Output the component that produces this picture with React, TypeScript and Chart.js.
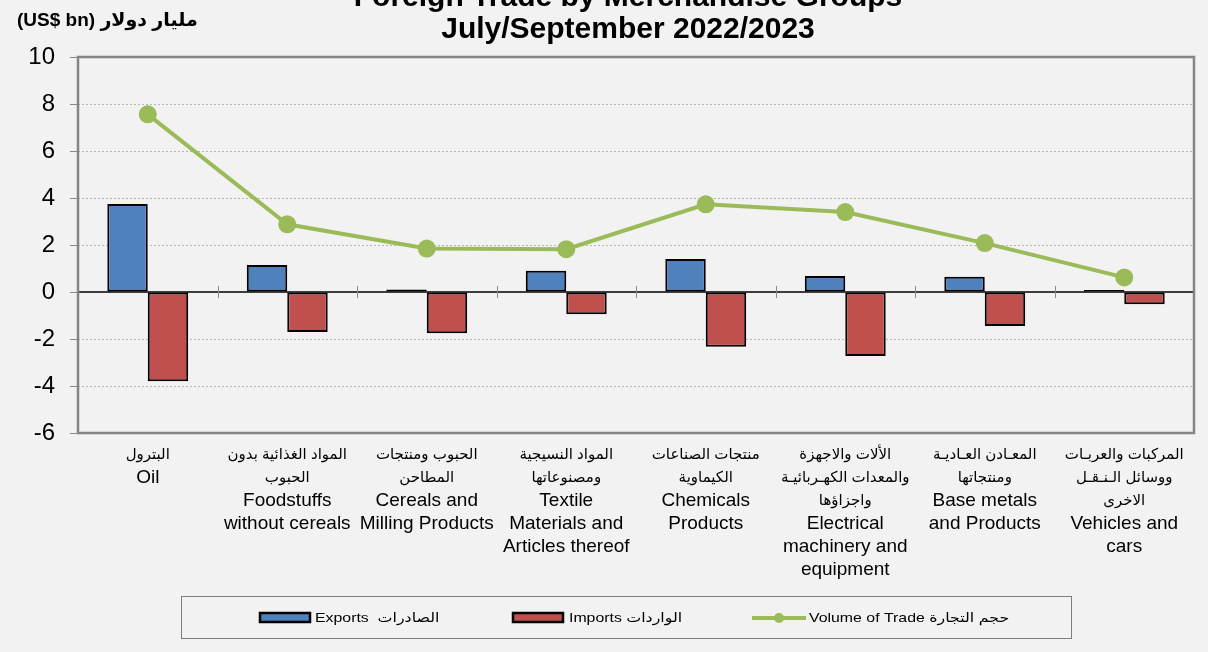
import React, { useEffect, useRef } from "react";
import { Chart, registerables } from "chart.js";

Chart.register(...registerables);

const categoriesAr: string[][] = [
  ["البترول"],
  ["المواد الغذائية بدون", "الحبوب"],
  ["الحبوب ومنتجات", "المطاحن"],
  ["المواد النسيجية", "ومصنوعاتها"],
  ["منتجات الصناعات", "الكيماوية"],
  ["الألات والاجهزة", "والمعدات الكهـربائيـة", "واجزاؤها"],
  ["المعـادن العـاديـة", "ومنتجاتها"],
  ["المركبات والعربـات", "ووسائل الـنـقـل", "الاخرى"],
];

const categoriesEn: string[][] = [
  ["Oil"],
  ["Foodstuffs", "without cereals"],
  ["Cereals and", "Milling Products"],
  ["Textile", "Materials and", "Articles thereof"],
  ["Chemicals", "Products"],
  ["Electrical", "machinery and", "equipment"],
  ["Base metals", "and Products"],
  ["Vehicles and", "cars"],
];

const exportsData = [3.75, 1.15, 0.11, 0.9, 1.4, 0.68, 0.65, 0.08];
const importsData = [-3.8, -1.7, -1.75, -0.95, -2.33, -2.72, -1.45, -0.52];
const volumeData = [7.56, 2.88, 1.85, 1.82, 3.73, 3.4, 2.08, 0.62];

const titleLines = ["Foreign Trade by Merchandise Groups", "July/September 2022/2023"];
const unitLabel = "(US$ bn) مليار دولار";
const legendLabels = ["Exports  الصادرات", "Imports الواردات", "Volume of Trade حجم التجارة"];

const FONT = "'Liberation Sans', Arial, 'DejaVu Sans', sans-serif";
const BLUE = "#4f81bd";
const RED = "#c0504d";
const GREEN = "#9bbb59";
const BG = "#f2f2f2";

export default function App() {
  const ref = useRef<HTMLCanvasElement | null>(null);

  useEffect(() => {
    const canvas = ref.current;
    if (!canvas) return;

    const drawStretched = (ctx: CanvasRenderingContext2D, text: string, x: number, y: number, sx: number) => {
      ctx.save();
      ctx.translate(x, y);
      ctx.scale(sx, 1);
      ctx.fillText(text, 0, 0);
      ctx.restore();
    };

    const decorPlugin = {
      id: "decor",
      beforeDraw(chart: any) {
        const ctx = chart.ctx;
        ctx.save();
        ctx.fillStyle = BG;
        ctx.fillRect(0, 0, chart.width, chart.height);
        ctx.restore();
      },
      beforeDatasetsDraw(chart: any) {
        const ctx = chart.ctx;
        const x = chart.scales.x;
        const y = chart.scales.y;
        const area = chart.chartArea;
        const y0 = y.getPixelForValue(0);
        ctx.save();
        ctx.strokeStyle = "#000";
        ctx.lineWidth = 1.5;
        ctx.beginPath();
        ctx.moveTo(area.left, y0);
        ctx.lineTo(area.right, y0);
        ctx.stroke();
        const n = categoriesEn.length;
        ctx.strokeStyle = "#8a8a8a";
        ctx.lineWidth = 1;
        for (let i = 1; i < n; i++) {
          const bx = Math.round((x.getPixelForValue(i - 1) + x.getPixelForValue(i)) / 2) + 0.5;
          ctx.beginPath();
          ctx.moveTo(bx, y0 - 6);
          ctx.lineTo(bx, y0 + 6);
          ctx.stroke();
        }
        ctx.restore();
      },
      afterDraw(chart: any) {
        const ctx = chart.ctx;
        const x = chart.scales.x;
        const area = chart.chartArea;
        ctx.save();
        // plot border
        ctx.strokeStyle = "#858585";
        ctx.lineWidth = 2.5;
        ctx.strokeRect(area.left, area.top, area.right - area.left, area.bottom - area.top);

        // title
        ctx.fillStyle = "#000";
        ctx.textAlign = "center";
        ctx.textBaseline = "alphabetic";
        ctx.font = `bold 30px ${FONT}`;
        ctx.fillText(titleLines[0], 628, 6);
        ctx.fillText(titleLines[1], 628, 38);

        // unit label
        ctx.textAlign = "left";
        ctx.font = `bold 19px ${FONT}`;
        ctx.fillText(unitLabel, 17, 26);

        // category labels
        ctx.textAlign = "center";
        ctx.textBaseline = "middle";
        for (let i = 0; i < categoriesEn.length; i++) {
          const cx = x.getPixelForValue(i);
          let ly = area.bottom + 22;
          ctx.font = `15px ${FONT}`;
          for (const line of categoriesAr[i]) {
            ctx.fillText(line, cx, ly);
            ly += 23;
          }
          ctx.font = `19px ${FONT}`;
          for (const line of categoriesEn[i]) {
            ctx.fillText(line, cx, ly);
            ly += 23;
          }
        }

        // legend
        ctx.fillStyle = BG;
        ctx.fillRect(181, 596, 890, 42);
        ctx.strokeStyle = "#7f7f7f";
        ctx.lineWidth = 1;
        ctx.strokeRect(181.5, 596.5, 890, 42);
        const ly = 618;
        ctx.lineWidth = 2.5;
        ctx.strokeStyle = "#000";
        ctx.fillStyle = BLUE;
        ctx.fillRect(260, ly - 5, 50, 9);
        ctx.strokeRect(260, ly - 5, 50, 9);
        ctx.fillStyle = RED;
        ctx.fillRect(513, ly - 5, 50, 9);
        ctx.strokeRect(513, ly - 5, 50, 9);
        ctx.strokeStyle = GREEN;
        ctx.lineWidth = 4;
        ctx.beginPath();
        ctx.moveTo(752, ly);
        ctx.lineTo(806, ly);
        ctx.stroke();
        ctx.fillStyle = GREEN;
        ctx.beginPath();
        ctx.arc(779, ly, 5, 0, Math.PI * 2);
        ctx.fill();
        ctx.fillStyle = "#000";
        ctx.font = `13px ${FONT}`;
        ctx.textAlign = "left";
        ctx.textBaseline = "middle";
        drawStretched(ctx, legendLabels[0], 315, ly, 1.22);
        drawStretched(ctx, legendLabels[1], 569, ly, 1.22);
        drawStretched(ctx, legendLabels[2], 809, ly, 1.22);
        ctx.restore();
      },
    };

    const chart = new Chart(canvas, {
      type: "bar",
      data: {
        labels: categoriesEn.map((l) => l.join(" ")),
        datasets: [
          {
            type: "line",
            label: "Volume of Trade",
            data: volumeData,
            borderColor: GREEN,
            backgroundColor: GREEN,
            borderWidth: 4,
            pointRadius: 9,
            pointHoverRadius: 9,
            pointBorderWidth: 0,
            pointBackgroundColor: GREEN,
            order: 0,
          } as any,
          {
            label: "Exports",
            data: exportsData,
            backgroundColor: BLUE,
            borderColor: "#000",
            borderWidth: 2,
            borderSkipped: false,
            categoryPercentage: 0.58,
            barPercentage: 1,
            order: 1,
          },
          {
            label: "Imports",
            data: importsData,
            backgroundColor: RED,
            borderColor: "#000",
            borderWidth: 2,
            borderSkipped: false,
            categoryPercentage: 0.58,
            barPercentage: 1,
            order: 1,
          },
        ],
      },
      options: {
        responsive: false,
        animation: false,
        devicePixelRatio: 1,
        layout: { padding: { top: 57, right: 14, left: 0, bottom: 0 } },
        plugins: {
          legend: { display: false },
          title: { display: false },
          tooltip: { enabled: false },
        },
        scales: {
          x: {
            offset: true,
            grid: { display: false },
            ticks: { display: false },
            border: { display: false },
            afterFit: (s: any) => {
              s.height = 219;
            },
          },
          y: {
            min: -6,
            max: 10,
            ticks: {
              stepSize: 2,
              color: "#000",
              font: { size: 24, family: FONT },
              padding: 15,
            },
            grid: {
              color: (c: any) => (c.tick && c.tick.value === 0 ? "rgba(0,0,0,0)" : "#b5b5b5"),
              tickColor: "#8a8a8a",
              tickLength: 8,
              lineWidth: 1,
            },
            border: { display: false, dash: [2, 2] },
            afterFit: (s: any) => {
              s.width = 78;
            },
          },
        },
      },
      plugins: [decorPlugin],
    } as any);

    return () => {
      chart.destroy();
    };
  }, []);

  return (
    <div style={{ position: "fixed", left: 0, top: 0, width: 1208, height: 652, background: BG }}>
      <canvas ref={ref} width={1208} height={652} style={{ display: "block" }} />
    </div>
  );
}
